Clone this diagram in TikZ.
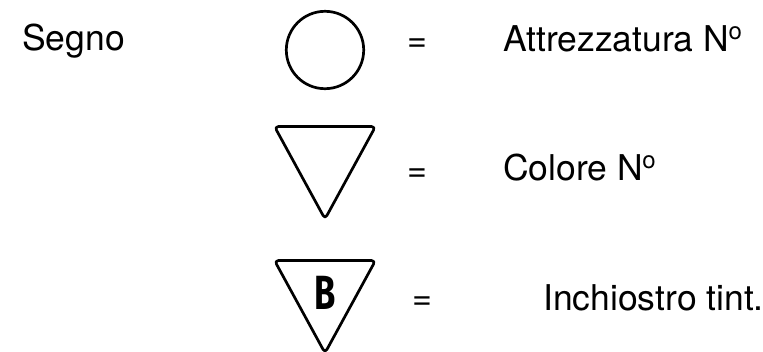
\documentclass[tikz,border=0pt]{standalone}
\usepackage{fontspec}
\usepackage{graphicx}
\setmainfont{TeX Gyre Heros}
\newfontfamily\bfont{Fira Sans}
\newcommand{\supo}{\raisebox{0.33em}{\fontsize{24}{26}\selectfont o}}
\begin{document}
\begin{tikzpicture}[x=1pt,y=-1pt,
  lbl/.style={anchor=base west,inner sep=0pt,font=\fontsize{35.5}{40}\selectfont},
  eq/.style={anchor=center,inner sep=0pt,font=\fontsize{34}{40}\selectfont},
  sym/.style={draw=black,line width=2.7pt,line join=round,rounded corners=4pt}]
\useasboundingbox (0,0) rectangle (763,351);
\node[lbl] (segno) at (22,50.5) {Segno};
\node[lbl] (attr) at (503,51.5) {Attrezzatura N\kern-0.5pt\supo};
\node[lbl] (col) at (503,180.5) {Colore N\kern-0.5pt\supo};
\node[lbl] (inch) at (543,310.5) {Inchiostro tint.};
\node[eq] (eq1) at (417.5,45) {=};
\node[eq] (eq2) at (417.5,175) {=};
\node[eq] (eq3) at (422.5,303) {=};
\draw[draw=black,line width=2.7pt] (325,50) circle[radius=38.7];
\draw[sym] (274.5,126.5) -- (375.5,126.5) -- (325,219) -- cycle;
\draw[sym] (274.5,260.5) -- (375.5,260.5) -- (325,353) -- cycle;
\node[anchor=center,inner sep=0pt] (b) at (325,292.5) {\scalebox{0.72}[1]{\bfont\bfseries\fontsize{48}{50}\selectfont B}};
\end{tikzpicture}
\end{document}
